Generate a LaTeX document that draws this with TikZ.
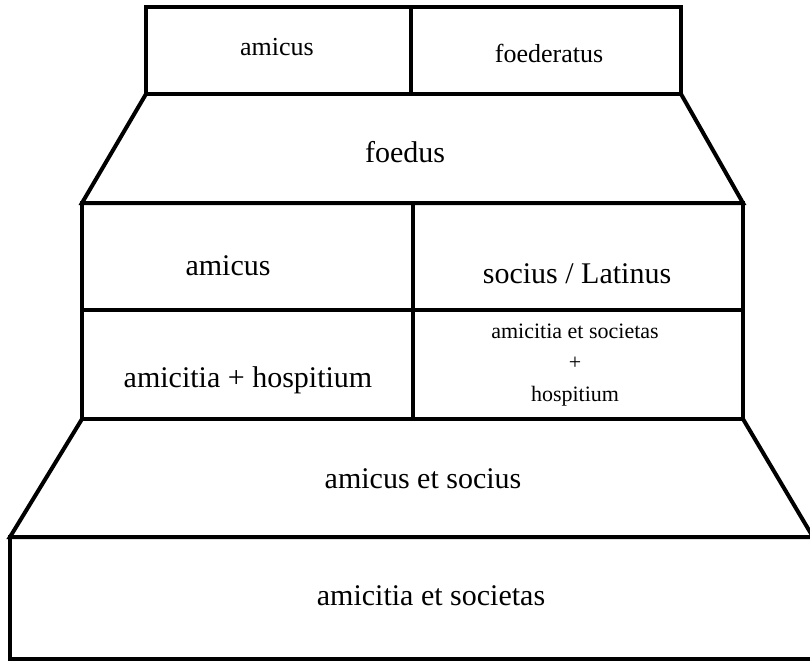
\documentclass[tikz,border=0pt]{standalone}
\usepackage{fontspec}
\setmainfont{Liberation Serif}
\begin{document}
\begin{tikzpicture}[x=1pt,y=-1pt,
    tier/.style={
      draw,
      line width=4pt,
      line join=miter
    },
    big/.style={anchor=base,font=\fontsize{30}{36}\selectfont},
    mid/.style={anchor=base,font=\fontsize{26}{31}\selectfont},
    small/.style={align=center,font=\fontsize{22}{31.5}\selectfont}]
  \useasboundingbox (0,0) rectangle (810,661);
  % outline, top to bottom
  \coordinate (A1) at (146,7);   \coordinate (A2) at (681,94);
  \coordinate (B1) at (82,203);  \coordinate (B2) at (743,419);
  \coordinate (C1) at (10,537);  \coordinate (C2) at (813,659);
  \draw[tier] (A1) rectangle (A2);
  \draw[tier] (411,7) -- (411,94);
  \draw[tier] (146,94) -- (B1) -- (743,203) -- (681,94);
  \draw[tier] (B1) rectangle (B2);
  \draw[tier] (82,310) -- (743,310);
  \draw[tier] (413,203) -- (413,419);
  \draw[tier] (82,419) -- (C1) -- (813,537) -- (743,419);
  \draw[tier] (C1) rectangle (C2);
  % labels
  \node[mid] (topL) at (277,56) {amicus};
  \node[mid] (topR) at (549,63) {foederatus};
  \node[big] (foedus) at (405,162) {foedus};
  \node[big] (amL) at (228,275) {amicus};
  \node[big] (socR) at (577,283) {socius / Latinus};
  \node[big] (amHosp) at (248,387) {amicitia + hospitium};
  \node[small] (amSocHosp) at (575,365) {amicitia et societas\\+\\hospitium};
  \node[big] (amSoc) at (423,488) {amicus et socius};
  \node[big] (amSocBase) at (431,605) {amicitia et societas};
\end{tikzpicture}
\end{document}
